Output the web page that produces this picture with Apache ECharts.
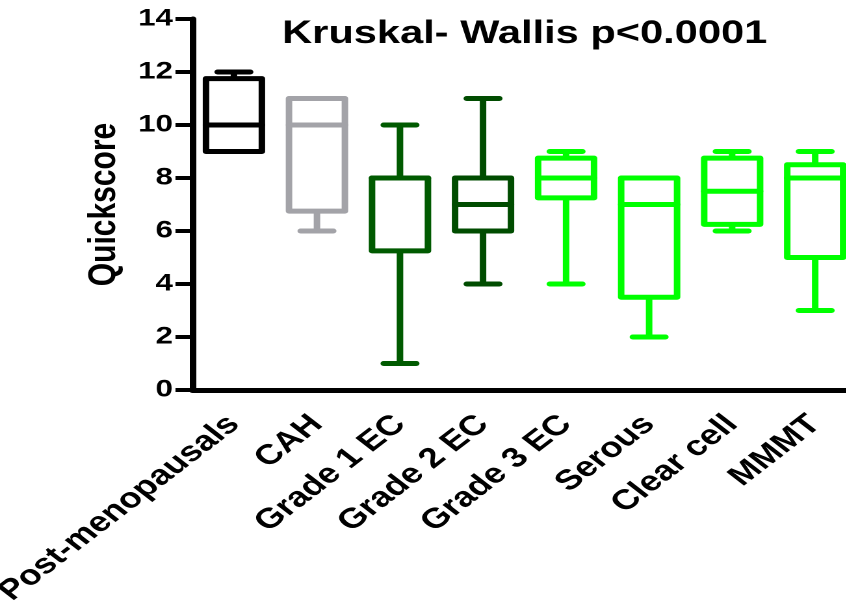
<!DOCTYPE html>
<html>
<head>
<meta charset="utf-8">
<script src="https://cdn.jsdelivr.net/npm/echarts@6/dist/echarts.min.js"></script>
<style>
  html, body { margin: 0; padding: 0; background: #fff; overflow: hidden; }
  /* the reference is stretched horizontally, so draw narrower and widen it */
  #main { width: 651px; height: 607px; transform: scaleX(1.3); transform-origin: 0 0; }
</style>
</head>
<body>
<div id="main"></div>
<script>
const categories = ["Post-menopausals", "CAH", "Grade 1 EC", "Grade 2 EC", "Grade 3 EC", "Serous", "Clear cell", "MMMT"];
const minValues = [9, 6, 1, 4, 4, 2, 6, 3];
const q1Values = [9, 6.75, 5.25, 6, 7.25, 3.5, 6.25, 5];
const medianValues = [10, 10, 8, 7, 8, 7, 7.5, 8];
const q3Values = [11.75, 11, 8, 8, 8.75, 8, 8.75, 8.5];
const maxValues = [12, 11, 10, 11, 9, 8, 9, 9];

const boxColors = ["#000000", "#a3a3a8", "#005a00", "#004c00", "#00ff00", "#00ff00", "#00ff00", "#00ff00"];
const FONT = "Liberation Sans, Arial, sans-serif";

const seriesData = categories.map((c, i) => [i, minValues[i], q1Values[i], medianValues[i], q3Values[i], maxValues[i]]);

const chart = echarts.init(document.getElementById("main"), null, { devicePixelRatio: 2 });

function renderBox(params, api) {
  const i = api.value(0);
  const color = boxColors[params.dataIndex];
  const lo = api.coord([i, api.value(1)]);
  const q1 = api.coord([i, api.value(2)]);
  const med = api.coord([i, api.value(3)]);
  const q3 = api.coord([i, api.value(4)]);
  const hi = api.coord([i, api.value(5)]);
  const boxW = 43, capW = 25;
  const x = lo[0];
  const style = { stroke: color, lineWidth: 5, lineCap: "round", lineJoin: "round", fill: null };
  const children = [];
  if (api.value(5) > api.value(4)) {
    children.push({ type: "line", shape: { x1: x, y1: q3[1], x2: x, y2: hi[1] }, style });
    children.push({ type: "line", shape: { x1: x - capW / 2, y1: hi[1], x2: x + capW / 2, y2: hi[1] }, style });
  }
  if (api.value(1) < api.value(2)) {
    children.push({ type: "line", shape: { x1: x, y1: q1[1], x2: x, y2: lo[1] }, style });
    children.push({ type: "line", shape: { x1: x - capW / 2, y1: lo[1], x2: x + capW / 2, y2: lo[1] }, style });
  }
  children.push({
    type: "rect",
    shape: { x: x - boxW / 2, y: q3[1], width: boxW, height: q1[1] - q3[1] },
    style: Object.assign({}, style, { fill: "#fff" })
  });
  children.push({ type: "line", shape: { x1: x - boxW / 2, y1: med[1], x2: x + boxW / 2, y2: med[1] }, style });
  return { type: "group", children };
}

const option = {
  animation: false,
  backgroundColor: "#ffffff",
  title: {
    text: "Kruskal- Wallis p<0.0001",
    left: 212,
    top: 13,
    textStyle: { fontFamily: FONT, fontWeight: "bold", fontSize: 32, color: "#000" }
  },
  grid: { left: 148, top: 19, width: 511, bottom: 217, containLabel: false, outerBoundsMode: "none" },
  xAxis: {
    type: "category",
    data: categories,
    boundaryGap: true,
    axisLine: { lineStyle: { color: "#000", width: 5 } },
    axisTick: { alignWithLabel: true, length: 12, lineStyle: { color: "#000", width: 4 } },
    axisLabel: {
      interval: 0,
      rotate: 45,
      margin: 30,
      fontFamily: FONT,
      fontWeight: "bold",
      fontSize: 28,
      color: "#000"
    }
  },
  yAxis: {
    type: "value",
    min: 0,
    max: 14,
    interval: 2,
    name: "Quickscore",
    nameLocation: "middle",
    nameGap: 52,
    nameTextStyle: { fontFamily: FONT, fontWeight: "bold", fontSize: 30, color: "#000" },
    axisLine: { show: true, lineStyle: { color: "#000", width: 5 } },
    axisTick: { show: true, length: 13, lineStyle: { color: "#000", width: 4 } },
    axisLabel: {
      margin: 15,
      fontFamily: FONT,
      fontWeight: "bold",
      fontSize: 24,
      color: "#000"
    },
    splitLine: { show: false }
  },
  series: [
    {
      type: "custom",
      renderItem: renderBox,
      encode: { x: 0, y: [1, 2, 3, 4, 5] },
      data: seriesData,
      z: 3
    }
  ]
};

chart.setOption(option);
</script>
</body>
</html>
